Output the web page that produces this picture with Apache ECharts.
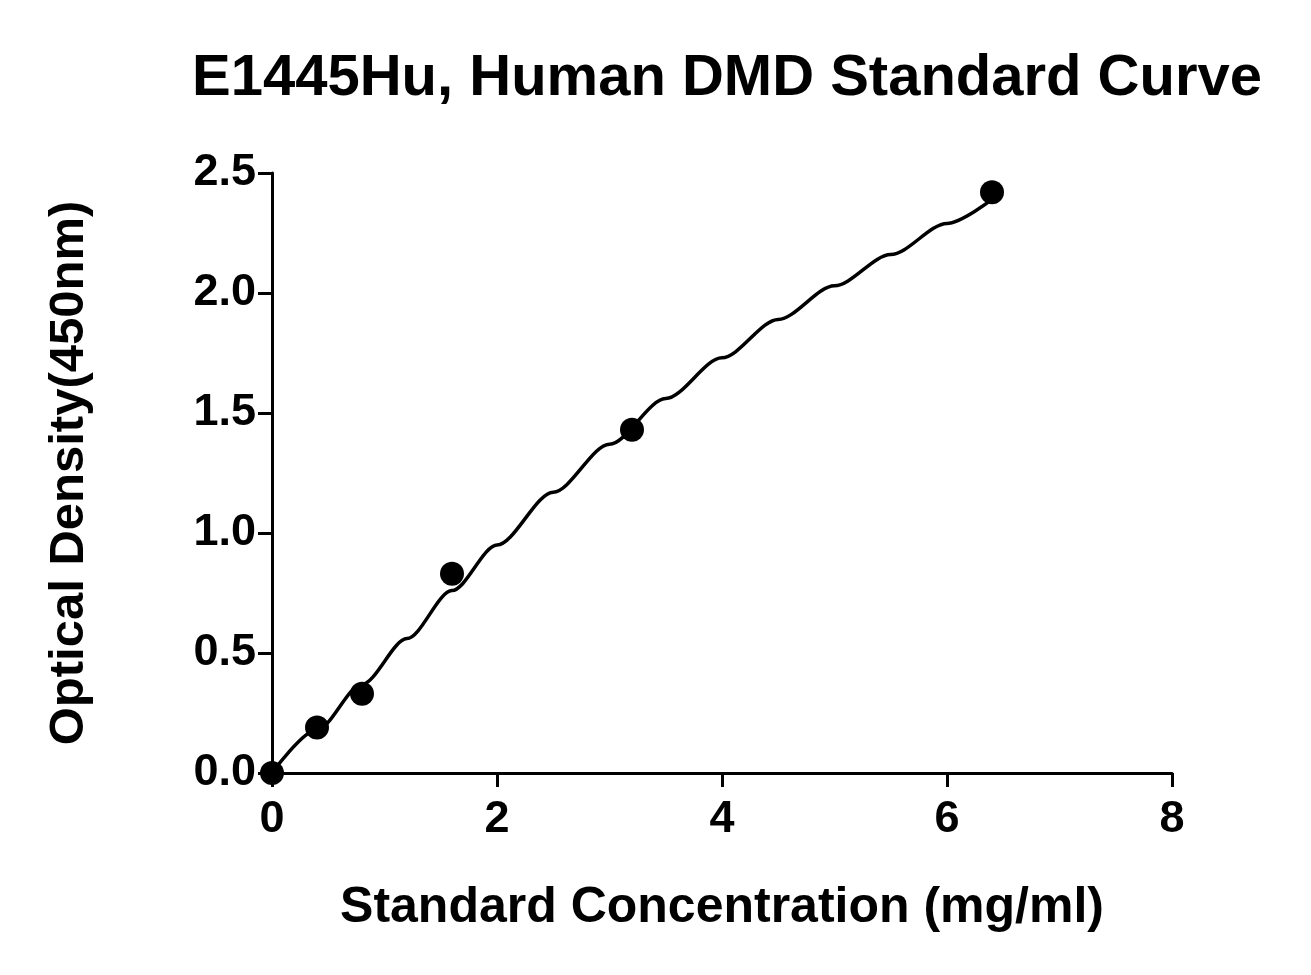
<!DOCTYPE html>
<html>
<head>
<meta charset="utf-8">
<script src="https://cdn.jsdelivr.net/npm/echarts@6/dist/echarts.min.js"></script>
<style>html,body{margin:0;padding:0;background:#fff}#chart{width:1311px;height:975px}</style>
</head>
<body>
<div id="chart"></div>
<script>
// standard points
var concX = [0, 0.4, 0.8, 1.6, 3.2, 6.4];
var odY = [0.0, 0.19, 0.33, 0.83, 1.43, 2.42];
// fitted curve
var curveX = [0, 0.4, 0.8, 1.2, 1.6, 2, 2.5, 3, 3.5, 4, 4.5, 5, 5.5, 6, 6.4];
var curveY = [0, 0.18, 0.37, 0.56, 0.76, 0.95, 1.17, 1.37, 1.56, 1.73, 1.89, 2.03, 2.16, 2.29, 2.39];
var yTicks = ['0.0', '0.5', '1.0', '1.5', '2.0', '2.5'];

function pairs(xs, ys) {
    return xs.map(function (x, i) { return [x, ys[i]]; });
}

var font = 'Liberation Sans, Arial, sans-serif';
var axisStyle = {
    axisLine: {show: true, lineStyle: {color: '#000', width: 3}},
    axisTick: {show: true, length: 14, lineStyle: {color: '#000', width: 3}},
    splitLine: {show: false}
};

var chart = echarts.init(document.getElementById('chart'));
chart.setOption({
    animation: false,
    title: {
        text: 'E1445Hu, Human DMD Standard Curve',
        left: 722, top: 45, textAlign: 'center',
        textStyle: {fontFamily: font, fontWeight: 'bold', fontSize: 58, color: '#000'}
    },
    grid: {left: 272, right: 139, top: 173, bottom: 202},
    xAxis: Object.assign({
        type: 'value', min: 0, max: 8, interval: 2,
        name: 'Standard Concentration (mg/ml)', nameLocation: 'middle', nameGap: 110,
        nameTextStyle: {fontFamily: font, fontWeight: 'bold', fontSize: 50, color: '#000'},
        axisLabel: {fontFamily: font, fontWeight: 'bold', fontSize: 45, color: '#000', margin: 24}
    }, axisStyle),
    yAxis: Object.assign({
        type: 'value', min: 0, max: 2.5, interval: 0.5,
        name: 'Optical Density(450nm)', nameLocation: 'middle', nameGap: 178,
        nameTextStyle: {fontFamily: font, fontWeight: 'bold', fontSize: 49, color: '#000'},
        axisLabel: {
            fontFamily: font, fontWeight: 'bold', fontSize: 45, color: '#000', margin: 16,
            formatter: function (v) { return yTicks[Math.round(v / 0.5)]; }
        }
    }, axisStyle),
    series: [
        {
            type: 'line', data: pairs(curveX, curveY), smooth: 0.3, smoothMonotone: 'x',
            showSymbol: false, lineStyle: {color: '#000', width: 3.5}
        },
        {
            type: 'scatter', data: pairs(concX, odY), symbolSize: 24,
            itemStyle: {color: '#000', opacity: 1}
        }
    ]
});
</script>
</body>
</html>
